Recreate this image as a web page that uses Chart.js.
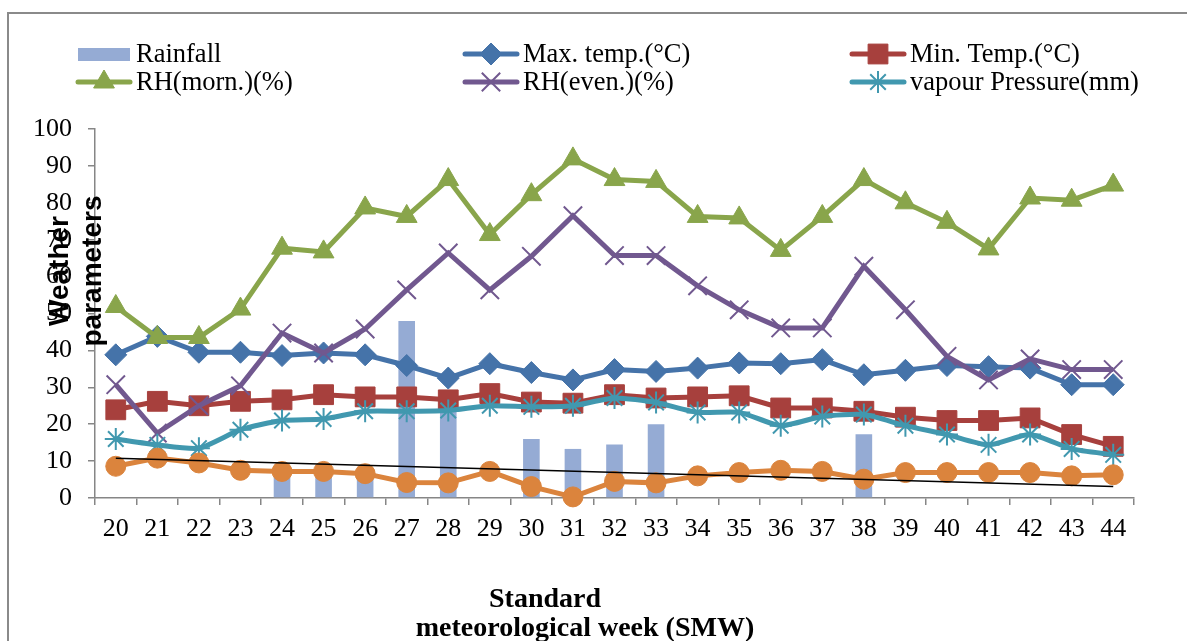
<!DOCTYPE html>
<html>
<head>
<meta charset="utf-8">
<title>Weather parameters by standard meteorological week</title>
<script src="https://cdn.jsdelivr.net/npm/chart.js@4.4.1/dist/chart.umd.min.js"></script>
<style>
  html, body { margin: 0; padding: 0; background: #fff; }
  canvas { display: block; }
</style>
</head>
<body>
<canvas id="myChart" width="1187" height="641"></canvas>
<script>
// Standard meteorological weeks
const weeks = ['20', '21', '22', '23', '24', '25', '26', '27', '28', '29', '30', '31', '32',
               '33', '34', '35', '36', '37', '38', '39', '40', '41', '42', '43', '44'];

// Series values
const rainfall    = [0, 0, 0, 0, 6.5, 6.5, 6, 48, 24, 0, 16, 13.3, 14.5, 20, 0, 0, 0, 0, 17.3, 0, 0, 0, 0, 0, 0];
const maxTemp     = [38.8, 43.8, 39.5, 39.5, 38.6, 39.3, 38.8, 35.9, 32.5, 36.4, 34, 32, 34.8, 34.3, 35.2, 36.6, 36.4, 37.5, 33.4, 34.6, 35.9, 35.6, 35.2, 30.7, 30.7];
const minTemp     = [23.9, 26.2, 25, 26.2, 26.6, 28, 27.4, 27.4, 26.6, 28.3, 26, 25.7, 28, 27.1, 27.4, 27.7, 24.4, 24.4, 23.5, 21.9, 21, 21, 21.7, 17.2, 14];
const rhMorning   = [51.9, 43.5, 43.5, 51.2, 67.7, 66.7, 78.6, 76.3, 86.3, 71.4, 82.2, 91.9, 86.3, 85.8, 76.3, 75.9, 67.1, 76.3, 86.3, 80, 74.7, 67.5, 81.3, 80.7, 84.8];
const rhEvening   = [30.7, 17.6, 25, 30.4, 44.7, 39.3, 45.8, 56.4, 66.4, 56.4, 65.5, 76.5, 65.7, 65.7, 57.5, 51, 46.1, 46.1, 62.8, 51, 38.4, 32, 37.7, 34.8, 34.8];
const vapour      = [16, 14.4, 13.5, 18.5, 21, 21.4, 23.5, 23.5, 23.7, 25, 24.7, 25, 27.1, 25.9, 23.2, 23.2, 19.6, 22.1, 22.6, 19.6, 17.2, 14.4, 17.2, 13.3, 11.7];
const seventh     = [8.6, 10.8, 9.5, 7.5, 7.2, 7.2, 6.6, 4.2, 4.1, 7.2, 3.1, 0.3, 4.5, 4.1, 6, 6.9, 7.5, 7.2, 5.1, 6.9, 6.9, 6.9, 6.9, 6, 6.3];
// linear trend line, only its two end points
const trend       = [10.8, null, null, null, null, null, null, null, null, null, null, null, null,
                     null, null, null, null, null, null, null, null, null, null, null, 3.1];

// Axis ticks
const yMin = 0, yMax = 100, yStep = 10;

const serif = '"Liberation Serif", "Times New Roman", serif';

function lineSet(label, data, color, style, radius, order, opts) {
    return Object.assign({
        type: 'line',
        label: label,
        data: data,
        borderColor: color,
        backgroundColor: color,
        borderWidth: 5,
        pointStyle: style,
        pointRadius: radius,
        pointBackgroundColor: color,
        pointBorderColor: color,
        pointBorderWidth: 1,
        tension: 0,
        clip: false,
        order: order
    }, opts || {});
}

// where each legend entry sits: [dataset index, x of symbol, y of row]
const legendSlots = [[0, 78, 54], [1, 465, 54], [2, 852, 54],
                     [3, 78, 82], [4, 465, 82], [5, 852, 82]];

const decorations = {
    id: 'decorations',
    beforeDraw(chart) {
        const c = chart.ctx;
        c.save();
        c.fillStyle = '#fff';
        c.fillRect(0, 0, chart.width, chart.height);
        c.strokeStyle = '#8a8a8a';
        c.lineWidth = 2;
        c.strokeRect(8, 13, chart.width + 20, chart.height + 20);
        c.restore();
    },
    afterDraw(chart) {
        const c = chart.ctx;
        const sets = chart.data.datasets;
        c.save();

        // legend
        c.font = '26.5px ' + serif;
        c.textBaseline = 'middle';
        c.textAlign = 'left';
        legendSlots.forEach(([i, x0, y]) => {
            const ds = sets[i];
            if (ds.type === 'bar') {
                c.fillStyle = ds.backgroundColor;
                c.fillRect(x0, y - 6, 52, 13);
            } else {
                c.strokeStyle = ds.borderColor;
                c.lineWidth = 5;
                c.lineCap = 'round';
                c.beginPath();
                c.moveTo(x0, y);
                c.lineTo(x0 + 52, y);
                c.stroke();
                c.fillStyle = ds.pointBackgroundColor;
                c.strokeStyle = ds.pointBorderColor;
                c.lineWidth = ds.pointBorderWidth;
                c.lineCap = 'butt';
                Chart.helpers.drawPoint(c, {
                    pointStyle: ds.pointStyle,
                    radius: ds.pointRadius,
                    rotation: 0,
                    borderWidth: ds.pointBorderWidth
                }, x0 + 26, y);
            }
            c.fillStyle = '#000';
            c.fillText(ds.label, x0 + 58, y + 1);
        });

        // y axis title, two rotated lines
        c.font = 'bold 28px "Liberation Sans", Arial, sans-serif';
        c.textAlign = 'center';
        c.textBaseline = 'alphabetic';
        [['Weather', 68], ['parameters', 101]].forEach(([t, x]) => {
            c.save();
            c.translate(x, 271);
            c.rotate(-Math.PI / 2);
            c.fillText(t, 0, 0);
            c.restore();
        });

        // x axis title
        c.font = 'bold 28px ' + serif;
        c.fillText('Standard', 545, 607);
        c.fillText('meteorological week (SMW)', 585, 636);

        c.restore();
    }
};

const ctx = document.getElementById('myChart').getContext('2d');
const myChart = new Chart(ctx, {
    type: 'bar',
    data: {
        labels: weeks,
        datasets: [
            {
                type: 'bar',
                label: 'Rainfall',
                data: rainfall,
                backgroundColor: '#95abd4',
                barPercentage: 0.4,
                categoryPercentage: 1,
                order: 10
            },
            lineSet('Max. temp.(°C)', maxTemp, '#4573a9', 'rectRot', 11, 7),
            lineSet('Min. Temp.(°C)', minTemp, '#a7403d', 'rect', 14, 6),
            lineSet('RH(morn.)(%)', rhMorning, '#89a54b', 'triangle', 12, 5),
            lineSet('RH(even.)(%)', rhEvening, '#71588f', 'crossRot', 13, 4, { pointBorderWidth: 2 }),
            lineSet('vapour Pressure(mm)', vapour, '#4198af', 'star', 11, 3, { pointBorderWidth: 2, tension: 0.2 }),
            lineSet('Series 7', seventh, '#db843d', 'circle', 10, 2),
            {
                type: 'line',
                label: 'Trend',
                data: trend,
                borderColor: '#000',
                borderWidth: 1.5,
                pointRadius: 0,
                spanGaps: true,
                order: 1
            }
        ]
    },
    options: {
        responsive: false,
        animation: false,
        devicePixelRatio: 1,
        layout: { padding: { left: 20, top: 129, right: 53, bottom: 83 } },
        plugins: {
            legend: { display: false },
            tooltip: { enabled: false }
        },
        scales: {
            x: {
                offset: true,
                grid: { offset: true, display: true, drawOnChartArea: false, tickLength: 7, color: '#868686', lineWidth: 1.5 },
                border: { display: true, color: '#868686', width: 1.5 },
                ticks: { color: '#000', font: { family: serif, size: 26 }, padding: 9, maxRotation: 0, autoSkip: false },
                afterFit(s) { s.height = 60; }
            },
            y: {
                min: yMin,
                max: yMax,
                grid: { display: true, drawOnChartArea: false, tickLength: 7, color: '#868686', lineWidth: 1.5 },
                border: { display: true, color: '#868686', width: 1.5 },
                ticks: { stepSize: yStep, color: '#000', font: { family: serif, size: 26 }, padding: 16 },
                afterFit(s) { s.width = 75; }
            }
        }
    },
    plugins: [decorations]
});
</script>
</body>
</html>
